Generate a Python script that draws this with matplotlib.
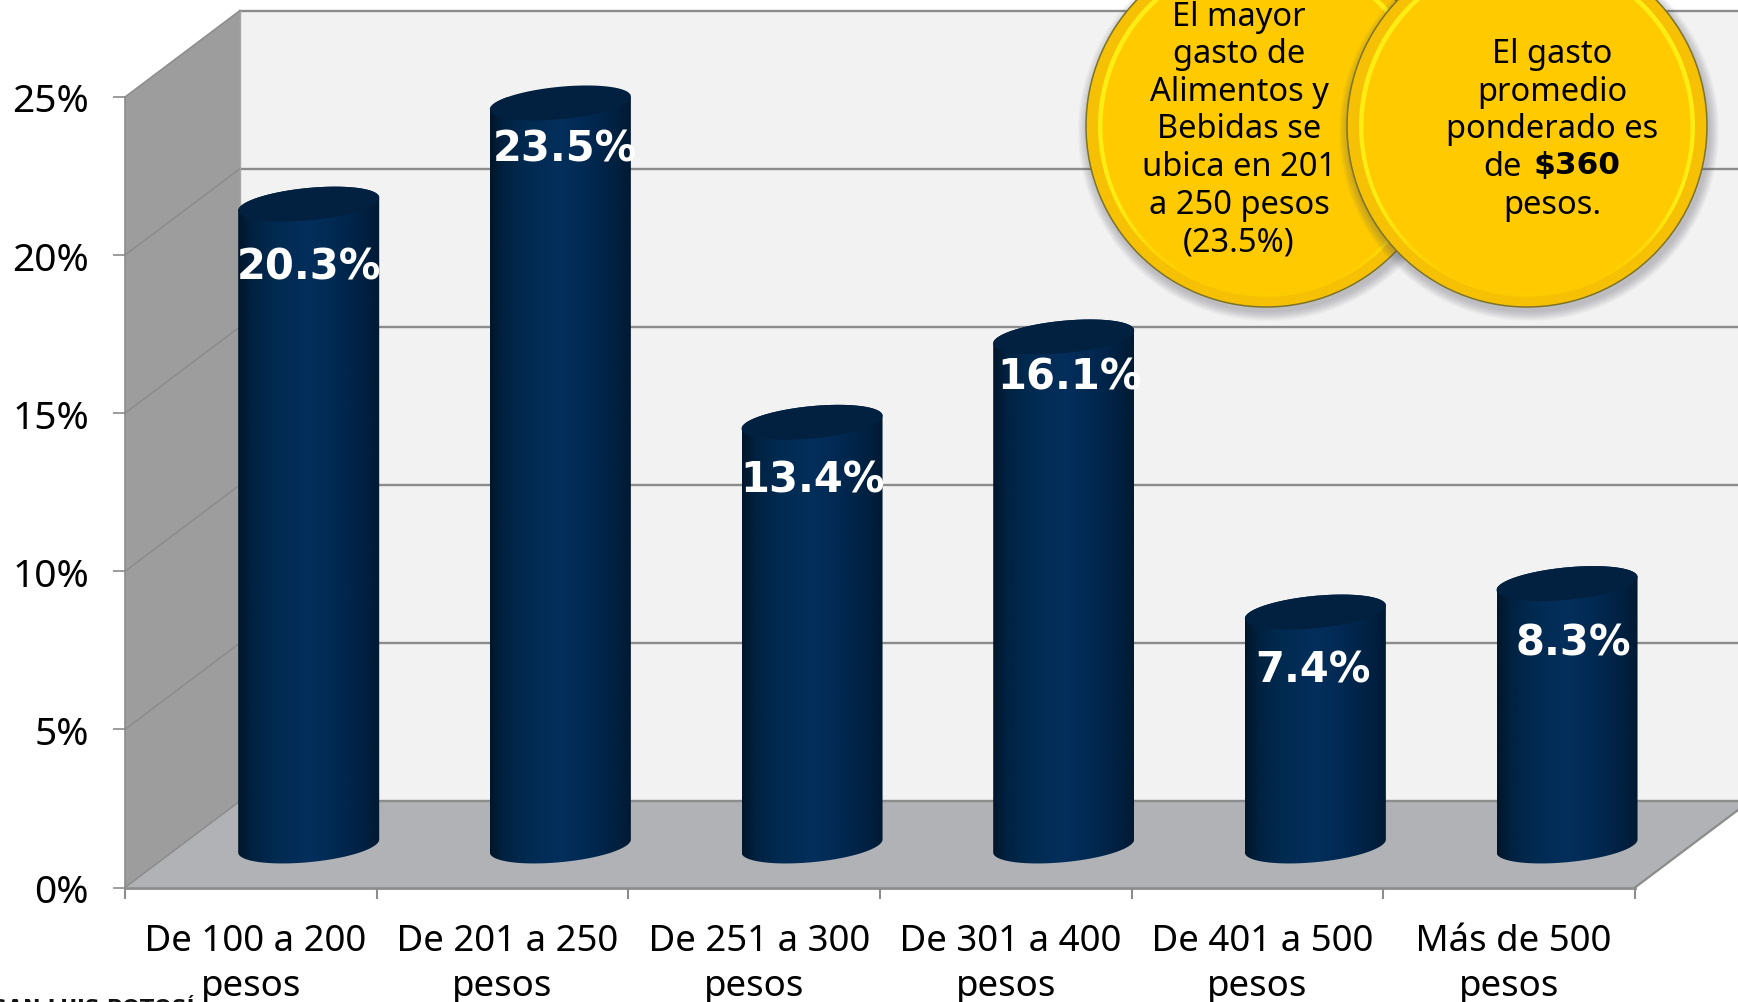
import matplotlib
matplotlib.use('Agg')
import matplotlib.pyplot as plt
import numpy as np
from matplotlib.patches import Ellipse, Polygon
from matplotlib.colors import to_rgb

plt.rcParams['font.family'] = ['Noto Sans', 'DejaVu Sans']

# chart data
categories = [' De 100 a 200\npesos', ' De 201 a 250\npesos', ' De 251 a 300\npesos',
              ' De 301 a 400\npesos', ' De 401 a 500\npesos', ' Más de 500\npesos']
values = [20.3, 23.5, 13.4, 16.1, 7.4, 8.3]
value_labels = ['20.3%', '23.5%', '13.4%', '16.1%', '7.4%', '8.3%']
yticks = [0, 5, 10, 15, 20, 25]
ytick_labels = ['0%', '5%', '10%', '15%', '20%', '25%']

coin1_lines = ['El mayor', 'gasto de', 'Alimentos y', 'Bebidas se', 'ubica en 201', 'a 250 pesos', '(23.5%)']
coin2_lines = ['El gasto', 'promedio', 'ponderado es']

# layout, in pixels of the figure
W, H = 1738, 1003
LEFT, RIGHT, ZERO, TOP25 = 125, 1635, 888.5, 98
EXTRA = 25  # axes run a bit past the last category so the last cylinder is not cut
PX_X = (RIGHT - LEFT) / len(categories)
PX_Y = (ZERO - TOP25) / 25
DEPTH_X = 115 / PX_X
DEPTH_Y = 86.5 / PX_Y
GREY = '#8c8c8c'

# how far each value label sits below the cylinder top, and its x shift
label_drop_px = [62, 46, 57, 40, 57, 59]
label_shift_px = [0, 5, 1, 6, -2, 6]

fig = plt.figure(figsize=(W / 100, H / 100), dpi=100, facecolor='white')
ax = fig.add_axes([LEFT / W, 1 - ZERO / H, (RIGHT + EXTRA - LEFT) / W, (ZERO - TOP25) / H])
ax.set_facecolor('none')

# walls and floor of the 3d box
x_end = 6 + DEPTH_X
ax.add_patch(Polygon([(DEPTH_X, DEPTH_Y), (x_end, DEPTH_Y), (x_end, 25 + DEPTH_Y), (DEPTH_X, 25 + DEPTH_Y)],
                     fc='#f2f2f2', ec='none', clip_on=False, zorder=1))
ax.add_patch(Polygon([(0, 0), (DEPTH_X, DEPTH_Y), (DEPTH_X, 25 + DEPTH_Y), (0, 25)],
                     fc='#9d9d9d', ec='none', clip_on=False, zorder=1))
ax.add_patch(Polygon([(0, 0), (6, 0), (x_end, DEPTH_Y), (DEPTH_X, DEPTH_Y)],
                     fc='#b0b2b6', ec='none', clip_on=False, zorder=1))
for t in yticks:
    ax.plot([DEPTH_X, x_end], [t + DEPTH_Y, t + DEPTH_Y], color=GREY, lw=1.7, clip_on=False, zorder=2)
    ax.plot([0, DEPTH_X], [t, t + DEPTH_Y], color=GREY, lw=1.1, clip_on=False, zorder=2)
ax.plot([DEPTH_X, DEPTH_X], [DEPTH_Y, 25 + DEPTH_Y], color='#a8a8a8', lw=1, clip_on=False, zorder=2)
ax.plot([0, 0], [0, 25], color=GREY, lw=1.2, clip_on=False, zorder=2)
ax.plot([6, x_end], [0, DEPTH_Y], color=GREY, lw=1.6, clip_on=False, zorder=2)

# cylinder shading, left to right
stops = [0, 0.1, 0.25, 0.5, 0.72, 0.9, 1]
stop_cols = ['#01162b', '#012241', '#012a50', '#042f5c', '#012850', '#012040', '#011a33']
rgb = np.array([to_rgb(c) for c in stop_cols])
u = np.linspace(0, 1, 140)
shade = np.stack([np.interp(u, stops, rgb[:, i]) for i in range(3)], axis=1)[None, :, :]

# cylinders
half_w = 70.5 / PX_X
shear = 6.5 / PX_Y
minor = 16.2 / PX_Y
base_y = 41.5 / PX_Y
centre_off = 183.7 / PX_X
th = np.linspace(0, 2 * np.pi, 121)


def rim(xc, yc, a):
    return xc + half_w * np.cos(a), yc + shear * np.cos(a) + minor * np.sin(a)


for i, v in enumerate(values):
    xc = i + centre_off
    top = base_y + v
    # outline: top half of the top ellipse then bottom half of the base ellipse
    xt, yt = rim(xc, top, th[:61])
    xb, yb = rim(xc, base_y, th[60:])
    outline = np.column_stack([np.r_[xt, xb], np.r_[yt, yb]])
    clip = Polygon(outline, transform=ax.transData, fc='none', ec='none')
    ax.add_patch(clip)
    im = ax.imshow(shade, extent=[xc - half_w, xc + half_w, 0, top + 2], aspect='auto', zorder=3, interpolation='bilinear')
    im.set_clip_path(clip)
    im.set_clip_box(None)
    xe, ye = rim(xc, top, th)
    ax.fill(xe, ye, color='#02203f', lw=0, zorder=4, clip_on=False)
    ax.text(xc + label_shift_px[i] / PX_X, top - label_drop_px[i] / PX_Y, value_labels[i], color='white',
            fontsize=30, fontweight='bold', family='DejaVu Sans', ha='center', va='center', zorder=5)

ax.set_xlim(0, 6 + EXTRA / PX_X)
ax.set_ylim(0, 25)
for s in ['top', 'right', 'left']:
    ax.spines[s].set_visible(False)
ax.spines['bottom'].set_color(GREY)
ax.spines['bottom'].set_linewidth(2)
ax.spines['bottom'].set_zorder(6)
ax.spines['bottom'].set_bounds(0, 6)
ax.set_xticks(range(7))
ax.set_xticklabels([])
ax.set_xticks(np.arange(6) + 0.5, categories, minor=True)
ax.tick_params(axis='x', which='major', length=8, width=1.5, color=GREY)
ax.tick_params(axis='x', which='minor', length=0, pad=25.5, labelsize=26.4)
ax.set_yticks(yticks, ytick_labels)
ax.tick_params(axis='y', length=9, width=1.2, color=GREY, pad=17, labelsize=28)
for lab in ax.get_xticklabels(minor=True):
    lab.set_linespacing(1.32)

# overlay in pixels for the two coins
ov = fig.add_axes([0, 0, 1, 1], zorder=10)
ov.set_facecolor('none')
ov.axis('off')

# bright ring on the coin: yellow on top and sides, fading out at the bottom
v_pos = np.linspace(0, 1, 200)
ring_stops = [0, 0.72, 0.92, 1]
ring_cols = np.array([to_rgb(c) for c in ['#ffec12', '#ffec12', '#ffcc00', '#fbc900']])
ring_rgb = np.stack([np.interp(v_pos, ring_stops, ring_cols[:, i]) for i in range(3)], axis=1)[:, None, :]


def coin(cx, cy, z):
    for k in range(10):
        ov.add_patch(Ellipse((cx + 2, cy + 5), 362 + 18 - k * 2, 362 + 18 - k * 2, fc='#5a5a68', alpha=0.04, ec='none', zorder=z))
    ov.add_patch(Ellipse((cx, cy), 360, 362, fc='#f6c004', ec='#7d7428', lw=1.1, zorder=z))
    ring = Ellipse((cx, cy), 336, 342, fc='none', ec='none', transform=ov.transData)
    ov.add_patch(ring)
    im = ov.imshow(ring_rgb, extent=[cx - 180, cx + 180, cy + 181, cy - 181], aspect='auto', zorder=z + 0.1)
    im.set_clip_path(ring)
    ov.add_patch(Ellipse((cx, cy + 1), 327, 335, fc='#ffcb00', ec='none', zorder=z + 0.2))


coin(1266, 127, 1)
coin(1527, 127, 2)

coin_size = 23.5
for n, line in enumerate(coin1_lines):
    ov.text(1239, 17 + n * 37.6, line, fontsize=coin_size, ha='center', va='center', color='black', zorder=3)
for n, line in enumerate(coin2_lines):
    ov.text(1552, 54.5 + n * 37.6, line, fontsize=coin_size, ha='center', va='center', color='black', zorder=3)
ov.text(1522, 167, 'de', fontsize=coin_size, ha='right', va='center', color='black', zorder=3)
ov.text(1533, 165.5, '$360', fontsize=22.5, fontweight='bold', family='DejaVu Sans', ha='left', va='center', color='black', zorder=3)
ov.text(1552, 205, 'pesos.', fontsize=coin_size, ha='center', va='center', color='black', zorder=3)

# footer text cut off by the slide edge
ov.text(194, 1015, 'SAN LUIS POTOSÍ', fontsize=15, fontweight='bold', family='DejaVu Sans', ha='right', va='baseline', color='#111111', zorder=3)

ov.set_xlim(0, W)
ov.set_ylim(H, 0)

fig.savefig('out.png', dpi=100)
